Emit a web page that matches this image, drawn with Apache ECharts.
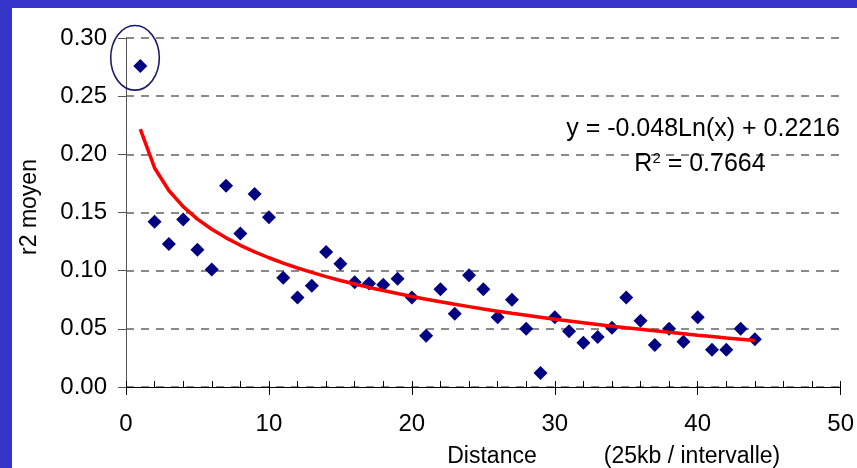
<!DOCTYPE html>
<html>
<head>
<meta charset="utf-8">
<script src="https://cdn.jsdelivr.net/npm/echarts@6/dist/echarts.min.js"></script>
<style>
  html, body { margin: 0; padding: 0; background: #ffffff; }
  #chart { width: 857px; height: 468px; }
</style>
</head>
<body>
<div id="chart"></div>
<script>
// Distance classes (25 kb per interval)
const distances = [1,2,3,4,5,6,7,8,9,10,11,12,13,14,15,16,17,18,19,20,21,22,
                   23,24,25,26,27,28,29,30,31,32,33,34,35,36,37,38,39,40,41,42,43,44];
// Mean r2 per distance class
const r2Mean = [0.276,0.142,0.123,0.144,0.118,0.101,0.173,0.132,0.166,0.146,0.094,
                0.077,0.087,0.116,0.106,0.090,0.089,0.088,0.093,0.077,0.044,0.084,
                0.063,0.096,0.084,0.060,0.075,0.050,0.012,0.060,0.048,0.038,0.043,
                0.051,0.077,0.057,0.036,0.050,0.039,0.060,0.032,0.032,0.050,0.041];
// Logarithmic trend  y = -0.048 Ln(x) + 0.2216, evaluated at each class
const trendValues = [0.2216,0.1883,0.1689,0.1551,0.1443,0.1356,0.1282,0.1218,0.1161,
                     0.1111,0.1065,0.1023,0.0985,0.0949,0.0916,0.0885,0.0856,0.0829,
                     0.0803,0.0778,0.0755,0.0732,0.0711,0.0691,0.0671,0.0652,0.0634,
                     0.0617,0.0600,0.0583,0.0568,0.0552,0.0538,0.0523,0.0509,0.0496,
                     0.0483,0.0470,0.0458,0.0445,0.0434,0.0422,0.0411,0.0400];
const yTicks = [0, 0.05, 0.10, 0.15, 0.20, 0.25, 0.30];
const xTicks = [0, 10, 20, 30, 40, 50];

const FONT = '"Liberation Sans", Arial, sans-serif';
const txt = '#000000';

const chart = echarts.init(document.getElementById('chart'), null, { renderer: 'canvas' });

const option = {
  backgroundColor: '#ffffff',
  animation: false,
  grid: { left: 126, right: 15, top: 38, bottom: 81 },
  xAxis: [{
    type: 'value',
    min: xTicks[0], max: xTicks[xTicks.length - 1], interval: 10,
    axisLine: { show: true, lineStyle: { color: '#000', width: 1 } },
    axisTick: { show: true, inside: false, length: 8, lineStyle: { color: '#000' } },
    axisLabel: { fontFamily: FONT, fontSize: 24, color: txt, margin: 25 },
    splitLine: { show: false }
  }, {
    // inner minor ticks every 2 units
    type: 'value', position: 'bottom',
    min: xTicks[0], max: xTicks[xTicks.length - 1], interval: 2,
    axisLine: { show: false },
    axisTick: { show: true, inside: true, length: 6, lineStyle: { color: '#000' } },
    axisLabel: { show: false },
    splitLine: { show: false }
  }],
  yAxis: {
    type: 'value',
    min: yTicks[0], max: yTicks[yTicks.length - 1], interval: 0.05,
    axisLine: { show: true, lineStyle: { color: '#555', width: 1 } },
    axisTick: { show: true, inside: false, length: 8, lineStyle: { color: '#555' } },
    axisLabel: {
      fontFamily: FONT, fontSize: 24, color: txt, margin: 19,
      formatter: v => v.toFixed(2)
    },
    splitLine: { show: true, lineStyle: { color: '#646464', width: 1.5, type: [8, 7] } }
  },
  series: [{
    name: 'r2 moyen',
    type: 'scatter',
    symbol: 'diamond',
    symbolSize: 14,
    itemStyle: { color: '#000080', opacity: 1 },
    z: 3,
    data: distances.map((d, i) => [d, r2Mean[i]])
  }, {
    name: 'tendance',
    type: 'line',
    showSymbol: false,
    symbol: 'none',
    smooth: false,
    lineStyle: { color: '#ff0000', width: 3.5 },
    z: 4,
    data: distances.map((d, i) => [d, trendValues[i]])
  }]
};
chart.setOption(option);

// Annotations: frame strips, axis titles, trend equation, outlier ellipse
const ellCenter = chart.convertToPixel({ gridIndex: 0 }, [0.63, 0.283]);
const ellEdge = chart.convertToPixel({ gridIndex: 0 }, [0.63 + 1.7, 0.283 - 0.0278]);
chart.setOption({
  graphic: [
    { type: 'rect', left: 0, top: 0, shape: { width: 12, height: 468 }, style: { fill: '#3434c8' }, z: 100 },
    { type: 'rect', left: 0, top: 0, shape: { width: 857, height: 8 }, style: { fill: '#3434c8' }, z: 100 },
    {
      type: 'text', x: 30, y: 207, rotation: Math.PI / 2,
      style: { text: 'r2 moyen', font: '23px ' + FONT, fill: txt, align: 'center', verticalAlign: 'middle' }
    },
    {
      type: 'text', x: 492, y: 457,
      style: { text: 'Distance', font: '23px ' + FONT, fill: txt, align: 'center', verticalAlign: 'middle' }
    },
    {
      type: 'text', x: 692, y: 457,
      style: { text: '(25kb / intervalle)', font: '23px ' + FONT, fill: txt, align: 'center', verticalAlign: 'middle' }
    },
    {
      type: 'text', x: 840, y: 129,
      style: { text: 'y = -0.048Ln(x) + 0.2216', font: '25px ' + FONT, fill: txt, align: 'right', verticalAlign: 'middle' }
    },
    {
      type: 'text', x: 700, y: 164,
      style: {
        text: '{a|R}{s|2}{a| = 0.7664}',
        align: 'center', verticalAlign: 'middle',
        rich: {
          a: { font: '25px ' + FONT, color: txt },
          s: { font: '15px ' + FONT, color: txt, verticalAlign: 'top', padding: [0, 0, 10, 0] }
        }
      }
    },
    {
      type: 'ellipse',
      shape: {
        cx: ellCenter[0], cy: ellCenter[1],
        rx: Math.abs(ellEdge[0] - ellCenter[0]), ry: Math.abs(ellEdge[1] - ellCenter[1])
      },
      style: { fill: 'none', stroke: '#1a1a6e', lineWidth: 1.6 },
      z: 50
    }
  ]
});
</script>
</body>
</html>
